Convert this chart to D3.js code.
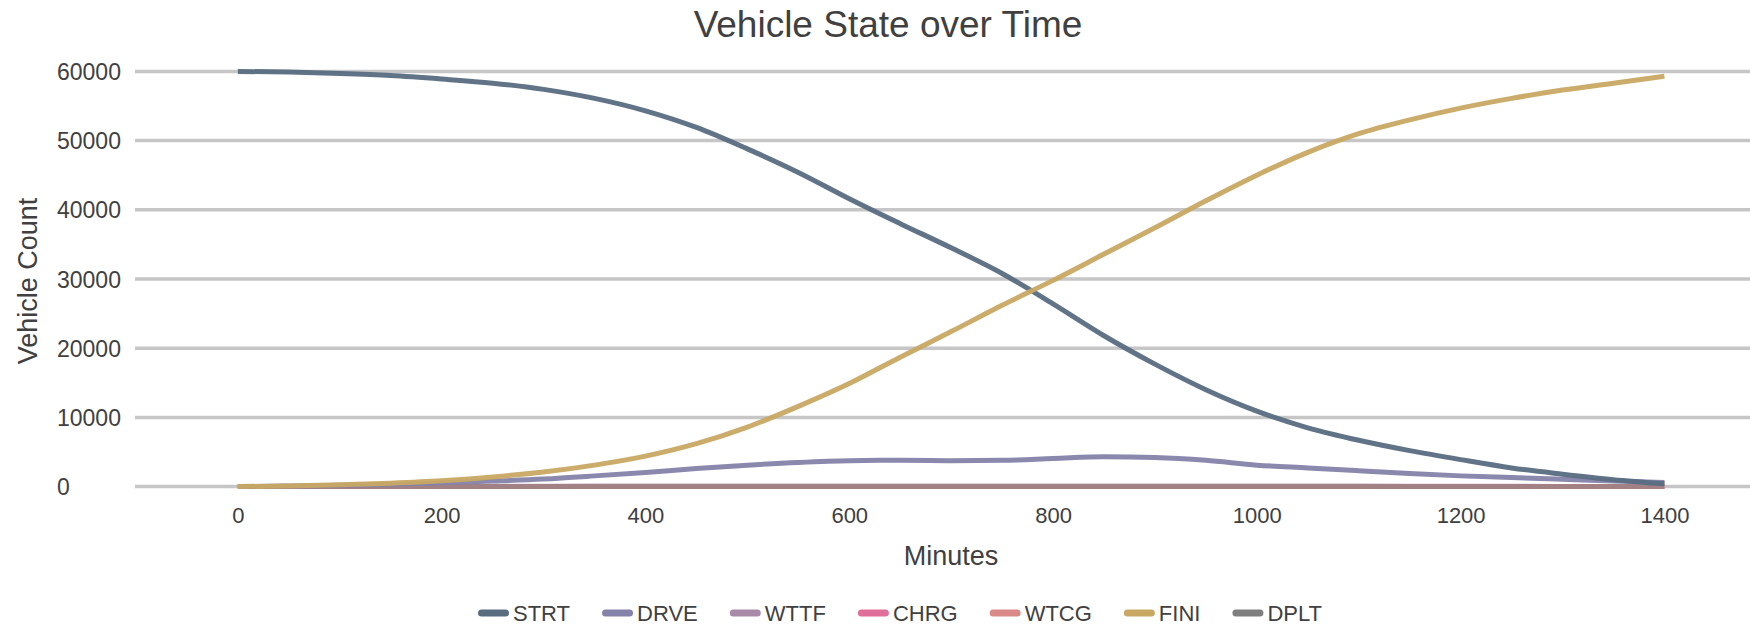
<!DOCTYPE html>
<html>
<head>
<meta charset="utf-8">
<script src="https://cdn.jsdelivr.net/npm/d3@7"></script>
<style>
  html, body { margin: 0; padding: 0; background: #fff; }
  svg { display: block; font-family: "Liberation Sans", Arial, sans-serif; }
</style>
</head>
<body>
<svg id="chart" width="1750" height="627"></svg>
<script>
// ---- Data ----
const minutes = [0,50,100,150,200,250,300,350,400,450,500,550,600,650,700,750,800,850,900,950,1000,1050,1100,1150,1200,1250,1300,1350,1400];
const STRT = [60000,59900,59700,59400,58900,58300,57400,56100,54300,51900,48800,45400,41600,38000,34500,30800,26400,21800,17700,14000,10900,8500,6700,5200,3900,2700,1800,1000,400];
const DRVE = [0,80,200,350,550,800,1100,1550,2050,2600,3100,3500,3750,3800,3750,3800,4050,4300,4200,3800,3100,2700,2300,1900,1550,1300,1050,800,600];
const WTTF = [0,10,20,30,40,50,60,70,80,90,100,100,100,100,100,100,100,100,100,100,90,80,70,60,50,40,30,20,10];
const CHRG = minutes.map(() => 0);
const WTCG = minutes.map(() => 0);
const FINI = [0,100,250,500,850,1400,2100,3100,4400,6200,8600,11600,14900,18700,22400,26200,29800,33600,37400,41300,45000,48300,51000,53000,54700,56100,57300,58300,59300];
const DPLT = minutes.map(() => 0);

const seriesNames = ["STRT","DRVE","WTTF","CHRG","WTCG","FINI","DPLT"];
const seriesValues = [STRT, DRVE, WTTF, CHRG, WTCG, FINI, DPLT];
const seriesColors = ["#596d81","#8482a9","#a98aa9","#e0709a","#d98a86","#c8a862","#7f7f7f"];
const drawOrder = [2, 3, 4, 6, 1, 0, 5];      // zero lines first, then DRVE, STRT, FINI
const xTicks = [0,200,400,600,800,1000,1200,1400];
const yTicks = [0,10000,20000,30000,40000,50000,60000];

const title = "Vehicle State over Time";
const xTitle = "Minutes";
const yTitle = "Vehicle Count";

// ---- Layout ----
const svg = d3.select("#chart");
const x = d3.scaleLinear().domain([-100, 1484]).range([136, 1750]);
const y = d3.scaleLinear().domain([0, 60000]).range([486.6, 71.4]);
const textColor = "#404040";

// gridlines
svg.append("g").selectAll("line").data(yTicks).join("line")
  .attr("x1", 135).attr("x2", 1750)
  .attr("y1", d => y(d)).attr("y2", d => y(d))
  .attr("stroke", "#c6c6c6").attr("stroke-width", 3.5);

// y axis labels (left-aligned)
const yAxis = d3.axisLeft(y).tickValues(yTicks).tickSize(0).tickPadding(0).tickFormat(d3.format("d"));
const gy = svg.append("g").attr("transform", "translate(57,0)").call(yAxis);
gy.select(".domain").remove();
gy.selectAll("text").attr("font-size", 23).attr("fill", textColor)
  .attr("font-family", "Liberation Sans, Arial, sans-serif")
  .attr("text-anchor", "start").attr("dy", "0.35em").attr("x", 0);

// x axis labels
const xAxis = d3.axisBottom(x).tickValues(xTicks).tickSize(0).tickPadding(0).tickFormat(d3.format("d"));
const gx = svg.append("g").attr("transform", "translate(0,507)").call(xAxis);
gx.select(".domain").remove();
gx.selectAll("text").attr("font-size", 22).attr("fill", textColor)
  .attr("font-family", "Liberation Sans, Arial, sans-serif").attr("dy", "0.71em").attr("y", 0);

// lines
const opacities = [0.95, 0.95, 0.75, 0.75, 0.75, 0.95, 0.6];
const line = d3.line().curve(d3.curveMonotoneX)
  .x((d, i) => x(minutes[i])).y(d => y(d));
svg.append("g").selectAll("path").data(drawOrder).join("path")
  .attr("d", k => line(seriesValues[k]))
  .attr("fill", "none")
  .attr("stroke", k => seriesColors[k])
  .attr("stroke-width", 5)
  .attr("stroke-opacity", k => opacities[k])
  .attr("stroke-linejoin", "round");

// title
svg.append("text").attr("x", 888).attr("y", 37).attr("text-anchor", "middle")
  .attr("font-size", 37).attr("fill", textColor).text(title);

// axis titles
svg.append("text").attr("x", 951).attr("y", 565).attr("text-anchor", "middle")
  .attr("font-size", 27).attr("fill", textColor).text(xTitle);
svg.append("text").attr("transform", "translate(37,281) rotate(-90)")
  .attr("text-anchor", "middle").attr("font-size", 27).attr("fill", textColor).text(yTitle);

// legend
const legend = svg.append("g");
let lx = 478;
const ly = 613;
seriesNames.forEach((name, i) => {
  const g = legend.append("g");
  g.append("rect").attr("x", lx).attr("y", ly - 3.5).attr("width", 31).attr("height", 7)
    .attr("rx", 3.5).attr("fill", seriesColors[i]);
  const t = g.append("text").attr("x", lx + 35).attr("y", ly).attr("dy", "0.36em")
    .attr("font-size", 22).attr("fill", textColor).text(name);
  const w = t.node().getComputedTextLength();
  lx = lx + 35 + w + 32;
});
</script>
</body>
</html>
